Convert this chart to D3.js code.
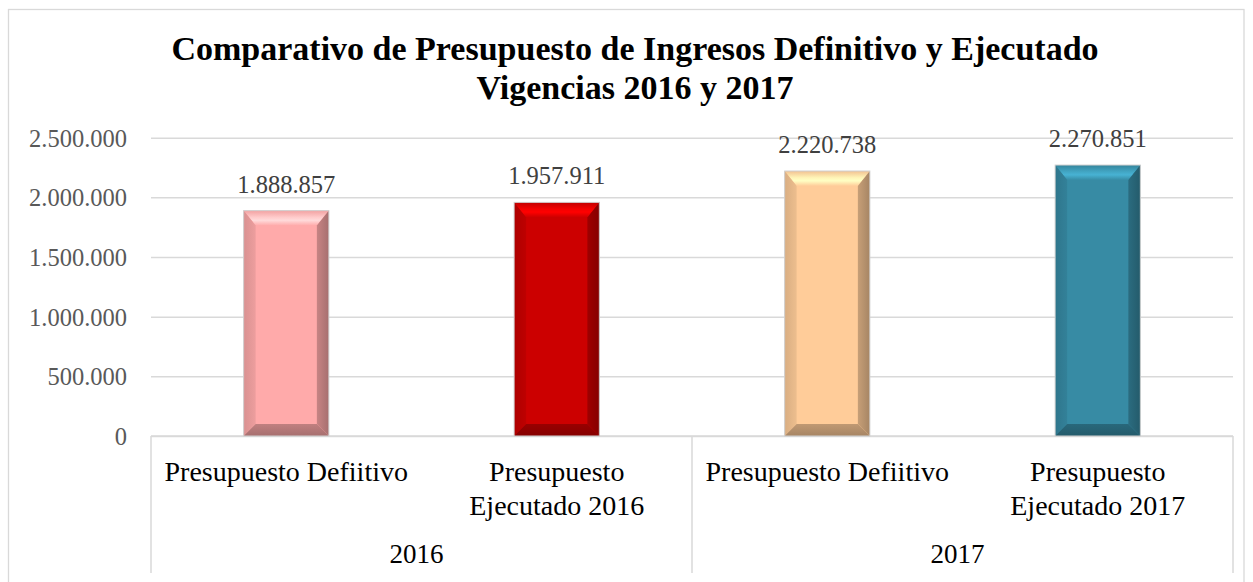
<!DOCTYPE html>
<html>
<head>
<meta charset="utf-8">
<script src="https://cdn.jsdelivr.net/npm/d3@7"></script>
<style>
  html, body { margin: 0; padding: 0; background: #fff; }
  svg { display: block; }
  text { font-family: "Liberation Serif", "DejaVu Serif", serif; }
</style>
</head>
<body>
<svg id="chart" width="1253" height="582"></svg>
<script>
// ---- data ----
const titleLines = ["Comparativo de Presupuesto de Ingresos Definitivo y Ejecutado", "Vigencias 2016 y 2017"];
const groups = ["2016", "2017"];
const categoryGroups = ["2016", "2016", "2017", "2017"];
const categories = ["Presupuesto Defiitivo", "Presupuesto Ejecutado 2016", "Presupuesto Defiitivo", "Presupuesto Ejecutado 2017"];
const values = [1888857, 1957911, 2220738, 2270851];
const yTicks = [0, 500000, 1000000, 1500000, 2000000, 2500000];
const barColors = ["#FFAAAA", "#CC0000", "#FFCC99", "#378BA4"];

// ---- layout ----
const W = 1253, H = 582;
const plot = { left: 151, right: 1233, top: 137.7, bottom: 436 };
const axisBottom = 573;

const svg = d3.select("#chart");
const loc = d3.formatLocale({ decimal: ",", thousands: ".", grouping: [3], currency: ["$", ""] });
const fmt = loc.format(",d");

const keys = categories.map((c, i) => i);
const x = d3.scaleBand().domain(keys).range([plot.left, plot.right]).paddingInner(0.685).paddingOuter(0.3425);
const xCat = d3.scaleBand().domain(keys).range([plot.left, plot.right]);
const y = d3.scaleLinear().domain([0, 2500000]).range([plot.bottom, plot.top]);

// frame
svg.append("rect").attr("x", 8.5).attr("y", 9.5).attr("width", 1235.5).attr("height", 600)
  .attr("fill", "#fff").attr("stroke", "#D9D9D9").attr("stroke-width", 1.3);

// title (two separate lines)
svg.append("g").selectAll("text").data(titleLines).join("text")
  .attr("x", 635).attr("y", (d, i) => i === 0 ? 60 : 98.5).attr("text-anchor", "middle")
  .style("font-weight", "bold").style("font-size", "34px").attr("fill", "#000")
  .text(d => d);

// gridlines
const yAxis = d3.axisLeft(y).tickValues(yTicks).tickSize(-(plot.right - plot.left)).tickPadding(24).tickFormat(fmt);
const gy = svg.append("g").attr("transform", `translate(${plot.left},0)`).call(yAxis);
gy.select(".domain").remove();
gy.selectAll(".tick line").attr("stroke", "#D9D9D9").attr("stroke-width", 1.5);
gy.selectAll(".tick text").attr("fill", "#595959").style("font-size", "24.5px")
  .style("font-family", '"Liberation Serif", serif').attr("dy", "0.34em");

// category axis lines
const ax = svg.append("g");
ax.append("line").attr("x1", plot.left).attr("x2", plot.right).attr("y1", plot.bottom).attr("y2", plot.bottom)
  .attr("stroke", "#D9D9D9").attr("stroke-width", 1.5);
const groupBounds = groups.map(g => {
  const idx = keys.filter(i => categoryGroups[i] === g);
  return { g, x0: xCat(idx[0]), x1: xCat(idx[idx.length - 1]) + xCat.bandwidth() };
});
const dividers = [plot.left, ...groupBounds.map(b => b.x1)];
ax.selectAll("line.div").data(dividers).join("line").attr("class", "div")
  .attr("x1", d => d).attr("x2", d => d).attr("y1", plot.bottom).attr("y2", axisBottom)
  .attr("stroke", "#D9D9D9").attr("stroke-width", 1.5);

// bars with bevel
const defs = svg.append("defs");
const bars = svg.append("g");
keys.forEach(i => {
  const base = d3.color(barColors[i]);
  const x0 = x(i), x1 = x(i) + x.bandwidth();
  const y0 = y(values[i]), y1 = y(0);
  const bt = 15, bb = 12, bl = 12, br = 12;
  bars.append("rect").attr("x", x0).attr("y", y0).attr("width", x1 - x0).attr("height", y1 - y0).attr("fill", base.formatHex());
  const gid = "gt" + i;
  const gt = defs.append("linearGradient").attr("id", gid).attr("x1", 0).attr("y1", 0).attr("x2", 0).attr("y2", 1);
  gt.append("stop").attr("offset", "0%").attr("stop-color", base.darker(0.15).formatHex());
  gt.append("stop").attr("offset", "45%").attr("stop-color", base.brighter(0.5).formatHex());
  gt.append("stop").attr("offset", "65%").attr("stop-color", base.brighter(0.7).formatHex());
  gt.append("stop").attr("offset", "100%").attr("stop-color", base.formatHex());
  bars.append("polygon").attr("points", [[x0, y0], [x1, y0], [x1 - br, y0 + bt], [x0 + bl, y0 + bt]].join(" "))
    .attr("fill", `url(#${gid})`);
  const glid = "gl" + i;
  const gl = defs.append("linearGradient").attr("id", glid).attr("x1", 0).attr("y1", 0).attr("x2", 1).attr("y2", 0);
  gl.append("stop").attr("offset", "0%").attr("stop-color", base.darker(0.45).formatHex());
  gl.append("stop").attr("offset", "100%").attr("stop-color", base.darker(0.2).formatHex());
  bars.append("polygon").attr("points", [[x0, y0], [x0 + bl, y0 + bt], [x0 + bl, y1 - bb], [x0, y1]].join(" "))
    .attr("fill", `url(#${glid})`);
  const grid = "gr" + i;
  const gr = defs.append("linearGradient").attr("id", grid).attr("x1", 0).attr("y1", 0).attr("x2", 1).attr("y2", 0);
  gr.append("stop").attr("offset", "0%").attr("stop-color", base.darker(0.7).formatHex());
  gr.append("stop").attr("offset", "100%").attr("stop-color", base.darker(1.2).formatHex());
  bars.append("polygon").attr("points", [[x1, y0], [x1, y1], [x1 - br, y1 - bb], [x1 - br, y0 + bt]].join(" "))
    .attr("fill", `url(#${grid})`);
  const gbid = "gb" + i;
  const gb = defs.append("linearGradient").attr("id", gbid).attr("x1", 0).attr("y1", 0).attr("x2", 0).attr("y2", 1);
  gb.append("stop").attr("offset", "0%").attr("stop-color", base.darker(0.8).formatHex());
  gb.append("stop").attr("offset", "100%").attr("stop-color", base.darker(1.2).formatHex());
  bars.append("polygon").attr("points", [[x0, y1], [x0 + bl, y1 - bb], [x1 - br, y1 - bb], [x1, y1]].join(" "))
    .attr("fill", `url(#${gbid})`);
  bars.append("rect").attr("x", x0).attr("y", y0).attr("width", x1 - x0).attr("height", y1 - y0)
    .attr("fill", "none").attr("stroke", "#D0D0D0").attr("stroke-width", 1);
});

// data labels
svg.append("g").selectAll("text").data(keys).join("text")
  .attr("x", i => x(i) + x.bandwidth() / 2).attr("y", i => y(values[i]) - 18)
  .attr("text-anchor", "middle").attr("fill", "#404040").style("font-size", "24.5px")
  .text(i => fmt(values[i]));

// category labels (wrapped)
const catG = svg.append("g");
const wrapWidth = 249;
keys.forEach(i => {
  const cx = xCat(i) + xCat.bandwidth() / 2;
  const t = catG.append("text").attr("x", cx).attr("y", 481).attr("text-anchor", "middle")
    .attr("fill", "#000").style("font-size", "28px");
  const words = categories[i].split(" ");
  let line = [];
  let tspan = t.append("tspan").attr("x", cx).attr("dy", 0);
  words.forEach(w => {
    line.push(w);
    tspan.text(line.join(" "));
    if (tspan.node().getComputedTextLength() > wrapWidth && line.length > 1) {
      line.pop();
      tspan.text(line.join(" "));
      line = [w];
      tspan = t.append("tspan").attr("x", cx).attr("dy", 34).text(w);
    }
  });
});

// group labels
svg.append("g").selectAll("text").data(groupBounds).join("text")
  .attr("x", d => (d.x0 + d.x1) / 2 - 5).attr("y", 563).attr("text-anchor", "middle")
  .attr("fill", "#000").style("font-size", "27px").text(d => d.g);
</script>
</body>
</html>
